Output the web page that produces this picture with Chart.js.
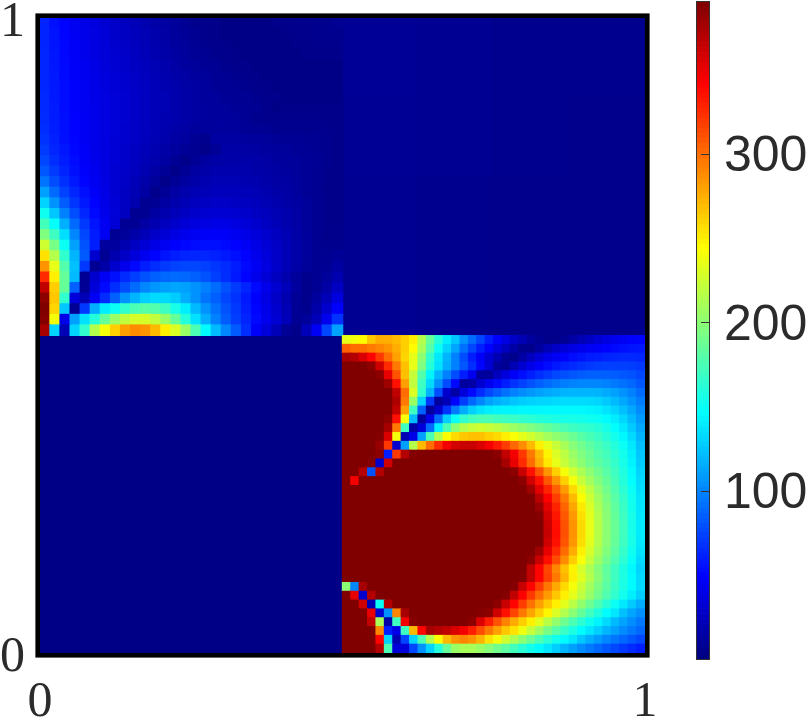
<!DOCTYPE html>
<html><head><meta charset="utf-8">
<style>html,body{margin:0;padding:0;background:#fff;overflow:hidden}
#m{position:absolute;left:0;top:0}#c{position:absolute;left:689px;top:0}</style>
<script src="https://cdn.jsdelivr.net/npm/chart.js@4"></script></head><body>
<canvas id="m" width="809" height="720"></canvas><canvas id="c" width="120" height="720"></canvas>
<script>
const axisTicks=[0,1];
const colorbarTicks=[100,200,300];
const valueMin=0, valueMax=390;
const topRightRows=[[9,7,6,6],[8,7,6,5],[7,6,5,5],[7,6,5,5]];
const bottomLeftRows=[[3,3,3,3],[3,3,3,3],[3,3,3,3],[3,3,3,3]];
const topLeftRows=[
[62,55,50,44,40,36,32,28,25,22,19,16,13,10,8,6,4,4,3,3,3,3,3,4,4,5,5,6,6,7],
[62,56,50,45,41,37,33,29,26,23,20,17,14,11,9,7,5,4,3,3,3,3,3,3,4,5,5,6,6,6],
[62,56,51,46,42,38,34,30,27,24,21,18,15,12,10,8,6,5,4,3,3,3,3,3,3,4,4,5,5,5],
[63,57,51,46,42,38,34,31,28,25,22,19,16,13,11,9,7,6,5,4,3,3,3,3,3,3,4,4,4,4],
[63,57,52,47,43,39,35,32,29,26,23,20,17,14,12,10,8,7,6,5,4,3,3,3,3,3,3,3,3,3],
[63,58,52,47,43,40,36,33,30,27,24,21,18,16,14,12,10,8,7,6,5,4,3,3,3,3,3,3,3,3],
[63,58,53,48,44,40,36,33,30,27,25,22,19,17,15,13,11,9,8,7,6,5,4,3,3,3,3,3,3,3],
[64,58,53,48,44,40,37,34,31,28,25,22,20,17,15,13,11,10,9,8,7,6,5,4,3,3,3,3,3,3],
[64,59,53,48,44,41,37,34,31,28,25,22,20,17,15,13,12,11,10,9,8,7,5,3,4,4,4,4,4,4],
[65,59,54,49,45,41,37,34,31,28,25,22,19,17,15,13,12,11,11,10,8,6,5,5,5,5,5,5,4,4],
[66,60,54,49,45,41,37,34,30,27,24,21,18,16,14,11,11,12,12,11,9,8,7,6,6,6,6,6,5,4],
[68,61,55,50,45,41,37,33,30,27,23,20,17,14,12,8,6,13,13,13,12,11,10,9,8,8,7,7,6,4],
[71,63,57,51,46,41,37,33,29,26,22,19,15,12,9,7,4,9,15,15,14,13,12,11,10,9,8,7,6,4],
[75,66,59,53,47,42,37,33,29,25,21,17,13,8,4,9,13,15,16,16,16,15,14,12,11,10,9,8,6,4],
[82,71,62,55,48,43,37,32,28,24,19,14,9,4,9,13,16,18,18,18,17,16,15,13,12,10,9,7,5,4],
[93,78,67,58,50,44,38,32,27,22,16,10,4,9,13,16,19,20,20,20,19,18,16,14,13,11,9,7,5,4],
[110,89,74,63,54,46,39,32,26,20,13,5,9,14,17,20,22,23,23,23,22,20,18,16,14,12,9,7,5,4],
[130,105,84,69,58,49,40,33,26,18,7,8,13,17,21,24,26,27,27,26,25,23,20,18,15,13,10,7,5,4],
[152,125,98,78,63,52,42,34,25,7,7,13,18,22,26,29,31,32,32,31,29,26,23,20,17,14,10,7,5,4],
[172,148,116,89,70,56,44,33,8,8,14,19,24,29,33,36,38,39,39,37,34,30,26,22,18,14,10,7,5,4],
[195,170,134,100,76,59,44,8,10,16,22,28,33,38,42,44,46,47,46,43,39,35,30,25,20,15,11,7,5,5],
[225,192,150,110,80,60,12,12,19,26,33,39,44,48,51,53,54,54,52,49,45,39,33,27,21,16,11,7,6,6],
[255,215,165,118,83,30,8,18,27,35,43,50,56,60,62,63,63,61,58,54,49,42,35,28,22,16,11,7,7,9],
[285,235,178,122,70,8,15,30,42,52,60,66,71,74,75,75,73,69,65,59,52,45,37,29,22,15,10,7,8,13],
[325,250,185,120,8,30,45,55,65,73,80,85,88,90,88,85,80,73,66,58,50,42,33,25,17,10,6,7,10,18],
[365,262,185,85,8,35,52,66,78,90,100,106,110,112,110,105,98,90,80,71,62,52,41,31,22,12,5,8,14,26],
[385,265,165,35,20,45,65,85,105,118,128,132,132,127,115,105,93,85,75,68,58,48,38,28,18,9,5,12,21,36],
[390,260,125,8,70,115,140,150,165,175,180,178,170,155,140,120,105,92,80,70,60,50,40,30,20,8,6,16,30,48],
[388,240,40,110,135,160,185,205,220,228,228,220,205,185,160,135,115,98,84,72,62,52,42,32,22,8,10,22,42,68],
[375,130,20,130,165,215,240,262,280,288,285,270,250,230,205,175,145,120,100,83,66,47,35,22,8,4,22,45,75,110]
];
const bottomRightRows=[
[235,240,245,265,275,275,270,262,250,215,185,160,140,125,105,90,75,60,48,38,28,20,12,7,4,4,8,14,20,26,32,37,42,45,48,50],
[305,300,300,295,290,285,275,262,245,210,178,150,130,112,92,75,60,48,36,25,14,6,5,12,20,27,33,38,42,45,47,49,52,54,56,57],
[375,370,355,340,320,300,280,260,235,200,165,138,118,98,78,60,46,32,20,8,5,14,24,33,40,45,49,53,56,59,60,62,63,64,64,63],
[390,390,390,385,360,325,295,268,235,195,160,135,115,98,82,66,50,32,10,8,20,31,40,47,53,58,62,65,68,70,72,73,73,73,72,70],
[390,390,390,390,385,350,310,268,222,178,143,118,98,78,60,42,12,10,24,36,46,54,60,66,71,76,79,82,84,85,85,85,84,82,80,76],
[390,390,390,390,390,378,335,280,220,170,132,104,78,52,12,14,30,42,52,60,68,74,80,85,90,94,97,99,100,100,100,98,95,92,88,82],
[390,390,390,390,390,390,365,300,230,165,118,78,30,15,35,52,65,76,84,92,98,103,107,110,113,115,117,118,118,118,117,114,110,105,98,90],
[390,390,390,390,390,390,372,295,205,130,70,12,22,50,72,88,100,110,116,120,124,127,129,130,131,132,133,133,133,132,130,126,120,113,105,96],
[390,390,390,390,390,390,365,280,170,85,10,30,68,95,115,128,136,140,142,143,143,144,144,144,144,144,144,144,144,143,141,136,130,122,113,102],
[390,390,390,390,390,385,335,240,120,12,40,90,128,150,165,172,175,175,172,170,168,165,163,160,158,156,155,155,154,152,150,145,139,131,120,108],
[390,390,390,390,390,375,295,170,15,35,90,140,175,200,215,222,225,222,218,212,206,200,195,190,185,180,175,170,167,165,161,155,147,138,126,113],
[390,390,390,390,388,355,240,20,40,110,175,215,245,258,265,268,268,262,258,250,242,234,226,217,208,201,195,187,180,174,168,161,153,144,132,118],
[390,390,390,390,380,320,30,110,215,270,300,325,345,358,362,362,355,345,332,318,302,288,270,250,235,222,210,198,190,182,175,168,160,150,138,122],
[390,390,390,390,385,60,320,370,388,390,390,390,390,390,390,390,390,390,385,365,345,320,295,270,248,230,218,205,195,187,178,172,163,153,140,125],
[390,390,390,388,30,360,390,390,390,390,390,390,390,390,390,390,390,390,390,375,350,325,300,275,253,235,222,210,200,190,182,175,166,155,142,127],
[390,390,370,80,370,390,390,390,390,390,390,390,390,390,390,390,390,390,390,390,385,362,335,310,285,262,240,225,212,200,190,180,170,158,145,130],
[390,345,390,390,390,390,390,390,390,390,390,390,390,390,390,390,390,390,390,390,390,385,360,335,308,285,262,240,222,208,196,185,173,160,147,132],
[390,390,390,390,390,390,390,390,390,390,390,390,390,390,390,390,390,390,390,390,390,390,378,352,328,305,282,258,235,218,203,190,177,163,150,134],
[390,390,390,390,390,390,390,390,390,390,390,390,390,390,390,390,390,390,390,390,390,390,390,368,342,318,295,270,245,225,208,194,180,166,152,136],
[390,390,390,390,390,390,390,390,390,390,390,390,390,390,390,390,390,390,390,390,390,390,390,380,352,328,303,278,252,230,212,197,183,168,153,137],
[390,390,390,390,390,390,390,390,390,390,390,390,390,390,390,390,390,390,390,390,390,390,390,388,358,333,308,283,256,233,215,199,185,170,155,138],
[390,390,390,390,390,390,390,390,390,390,390,390,390,390,390,390,390,390,390,390,390,390,390,390,362,336,310,285,258,235,216,200,186,171,155,139],
[390,390,390,390,390,390,390,390,390,390,390,390,390,390,390,390,390,390,390,390,390,390,390,390,363,337,311,285,258,235,216,200,186,171,155,139],
[390,390,390,390,390,390,390,390,390,390,390,390,390,390,390,390,390,390,390,390,390,390,390,390,360,335,309,283,256,233,215,199,185,170,155,138],
[390,390,390,390,390,390,390,390,390,390,390,390,390,390,390,390,390,390,390,390,390,390,390,378,350,325,300,275,250,228,211,196,182,167,152,136],
[390,390,390,390,390,390,390,390,390,390,390,390,390,390,390,390,390,390,390,390,390,390,385,362,336,312,288,263,241,222,205,191,177,163,149,133],
[390,390,390,390,390,390,390,390,390,390,390,390,390,390,390,390,390,390,390,390,390,390,365,340,315,290,268,248,228,212,197,183,170,157,144,130],
[390,390,390,390,390,390,390,390,390,390,390,390,390,390,390,390,390,390,390,390,390,388,365,340,317,295,272,250,232,215,199,184,170,157,145,132],
[200,100,375,390,390,390,390,390,390,390,390,390,390,390,390,390,390,390,390,390,388,362,340,318,296,277,258,240,224,208,194,181,168,156,145,133],
[390,350,30,370,390,390,390,390,390,390,390,390,390,390,390,390,390,390,390,388,365,342,320,300,282,265,250,234,219,204,190,177,165,153,140,128],
[390,390,360,20,150,370,390,390,390,390,390,390,390,390,390,390,390,390,385,362,340,318,298,280,264,250,233,217,202,188,175,162,150,138,126,115],
[390,390,390,350,30,105,290,375,390,390,390,390,390,390,390,390,388,385,360,335,315,295,278,262,247,230,214,199,185,171,158,146,137,122,112,104],
[390,390,390,365,210,15,170,345,388,390,390,390,390,390,390,385,355,330,310,292,276,262,250,233,217,202,188,175,163,152,142,132,120,111,103,95],
[390,390,390,390,290,60,40,170,270,340,375,370,365,355,345,330,312,295,280,265,255,238,222,207,193,180,168,157,146,137,128,118,110,102,95,88],
[390,390,390,390,340,130,20,75,130,175,215,245,270,285,290,285,272,255,240,225,212,200,187,175,163,153,145,137,125,116,108,100,94,88,82,76],
[390,390,390,390,370,175,35,35,75,105,130,160,185,205,210,210,205,198,190,182,172,162,153,145,137,128,118,110,102,95,88,82,76,70,65,60]
];
function jet(v){
  const t=Math.min(1,Math.max(0,(v-valueMin)/(valueMax-valueMin)));
  const f=x=>Math.round(255*Math.min(1,Math.max(0,x)));
  return `rgb(${f(Math.min(4*t-1.5,-4*t+4.5))},${f(Math.min(4*t-0.5,-4*t+3.5))},${f(Math.min(4*t+0.5,-4*t+2.5))})`;
}
function cells(rows,x0,y0,span){
  const pts=[],cols=[];
  rows.forEach((row,i)=>row.forEach((v,j)=>{
    pts.push({x:x0+(j+.5)/row.length*span,y:y0+span-(i+.5)/rows.length*span,v});
    cols.push(jet(v));
  }));
  return {pts,cols};
}
function ds(rows,x0,y0,radius){
  const c=cells(rows,x0,y0,.5);
  return {data:c.pts,pointStyle:'rect',pointRadius:radius,pointHoverRadius:radius,pointBorderWidth:0,
    pointBackgroundColor:c.cols,showLine:false,clip:0};
}
const serif='"Liberation Serif"',sans='"Liberation Sans"';
const frame={id:'frame',afterDraw(ch){
  const a=ch.chartArea,x=ch.ctx,w=4.6;
  x.save();x.strokeStyle='#000';x.lineWidth=w;
  x.strokeRect(a.left-w/2,a.top-w/2,a.right-a.left+w,a.bottom-a.top+w);x.restore();
}};
function zero(s){s.paddingLeft=s.paddingRight=s.paddingTop=s.paddingBottom=0;}
new Chart(document.getElementById('m'),{type:'scatter',
  data:{datasets:[ds(bottomRightRows,.5,0,6.9),ds(topLeftRows,0,.5,8.2),ds(topRightRows,.5,.5,57),ds(bottomLeftRows,0,0,57)]},
  options:{responsive:false,animation:false,events:[],
    layout:{autoPadding:false,padding:{left:0,top:18,right:164,bottom:0}},
    plugins:{legend:{display:false},tooltip:{enabled:false}},
    scales:{
      x:{type:'linear',min:0,max:1,grid:{display:false,drawTicks:false},border:{display:false},
        afterBuildTicks(s){s.ticks=axisTicks.map(value=>({value}));},
        afterFit(s){s.height=67;zero(s);},
        ticks:{font:{family:serif,size:50},color:'#2b2b2b',padding:20,maxRotation:0,autoSkip:false}},
      y:{type:'linear',min:0,max:1,grid:{display:false,drawTicks:false},border:{display:false},
        afterBuildTicks(s){s.ticks=axisTicks.map(value=>({value}));},
        afterFit(s){s.width=40;zero(s);},
        ticks:{font:{family:serif,size:50},color:'#2b2b2b',padding:15,labelOffset:5,autoSkip:false}}
    }},plugins:[frame]});

const levels=[];for(let v=valueMin;v<valueMax;v+=3)levels.push(v);
const cbTicks={id:'cbTicks',afterDraw(ch){
  const a=ch.chartArea,x=ch.ctx,s=ch.scales.y;
  x.save();x.strokeStyle='#333';x.lineWidth=1;
  colorbarTicks.forEach(v=>{const p=Math.round(s.getPixelForValue(v))+.5;x.beginPath();x.moveTo(a.right-8,p);x.lineTo(a.right,p);x.stroke();});
  x.strokeRect(a.left-.5,a.top-.5,a.right-a.left+1,a.bottom-a.top+1);x.restore();
}};
new Chart(document.getElementById('c'),{type:'bar',
  data:{labels:['c'],datasets:levels.map(v=>({data:[3],backgroundColor:jet(v+1.5),borderWidth:0,stack:'s',barPercentage:1,categoryPercentage:1}))},
  options:{responsive:false,animation:false,events:[],
    layout:{autoPadding:false,padding:{left:8,top:2,right:0,bottom:61}},
    plugins:{legend:{display:false},tooltip:{enabled:false}},
    scales:{
      x:{display:false,stacked:true},
      y:{type:'linear',position:'right',stacked:true,min:valueMin,max:valueMax,grid:{display:false,drawTicks:false},border:{display:false},
        afterBuildTicks(s){s.ticks=colorbarTicks.map(value=>({value}));},
        afterFit(s){s.width=100;zero(s);},
        ticks:{font:{family:sans,size:50},color:'#2b2b2b',padding:15,labelOffset:4,autoSkip:false}}
    }},plugins:[cbTicks]});
</script></body></html>
